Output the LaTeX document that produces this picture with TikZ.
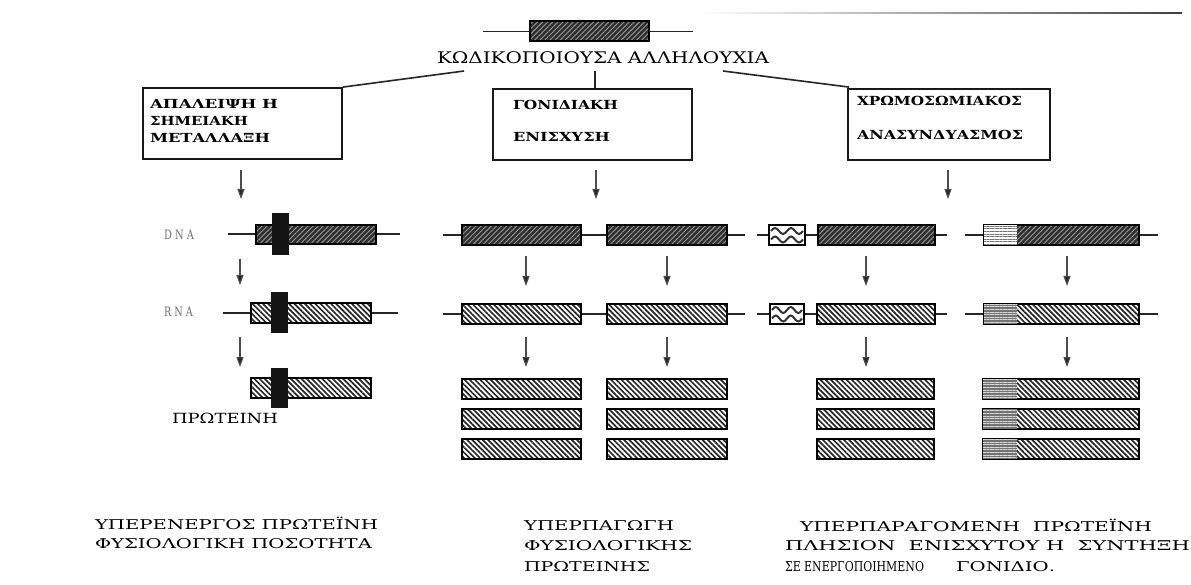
\documentclass[tikz,border=0pt]{standalone}
\usepackage{fontspec}
\setmainfont{DejaVu Serif}
\usetikzlibrary{patterns.meta,arrows.meta,calc}
\newcommand\fitw[2]{\resizebox{#1pt}{\height}{#2}}
\newcommand\gbox[6]{\node[#1,minimum width=#4pt,minimum height=#5pt] (#6) at (#2,#3) {};}
\tikzset{
  txt/.style={inner sep=0pt, outer sep=0pt, anchor=west},
  gl/.style={line width=1.3pt, black!85},
  conn/.style={line width=1.6pt, black!85},
  mbox/.style={draw=black!90, line width=1.8pt, fill=white, inner sep=0pt},
  dnab/.style={draw=black, line width=1.3pt, inner sep=0pt, preaction={fill=black!82},
    pattern={Lines[angle=45,distance=3.6pt,line width=0.9pt]}, pattern color=black!40},
  rnab/.style={draw=black, line width=1.3pt, inner sep=0pt, preaction={fill=white},
    pattern={Lines[angle=-45,distance=3.7pt,line width=1.7pt]}, pattern color=black!85},
  barb/.style={fill=black!92, draw=none, inner sep=0pt},
  wbox/.style={draw=black, line width=1.3pt, fill=white, inner sep=0pt},
  wave/.style={line width=2pt, black!80},
  hsl/.style={preaction={fill=white}, pattern={Lines[angle=0,distance=2.6pt,line width=0.7pt]}, pattern color=black!55},
  hsd/.style={preaction={fill=black!55}, pattern={Lines[angle=0,distance=2.6pt,line width=0.6pt]}, pattern color=white!85!black},
  arr/.style={line width=1.1pt, black!70, -{Triangle[length=10pt,width=7pt,fill=black!85]}},
}
\begin{document}
\begin{tikzpicture}[x=1pt,y=-1pt]
\fill[white] (0,0) rectangle (1191,585);
\useasboundingbox (0,0) rectangle (1191,585);

% faint top-right rule
\shade[left color=white, right color=black!75] (700,12.3) rectangle (1182,13.8);

% ---------- top gene ----------
\coordinate (tgl) at (483,31.5);
\coordinate (tgr) at (693,31.5);
\draw[gl] (tgl) -- (tgr);
\gbox{dnab}{589.5}{31}{119}{20}{tgene}
\node[txt] (title) at (437,58) {\fontsize{16}{16}\selectfont\fitw{332}{ΚΩΔΙΚΟΠΟΙΟΥΣΑ ΑΛΛΗΛΟΥΧΙΑ}};

% ---------- mechanism boxes ----------
\gbox{mbox}{242.5}{123.5}{199}{71}{box1}
\gbox{mbox}{592.5}{124.5}{199}{71}{box2}
\gbox{mbox}{949}{124.5}{202}{71}{box3}
\coordinate (tl) at (464,71);
\coordinate (tm) at (595,71);
\coordinate (tr) at (723,71);
\draw[conn] (tl) -- (box1.north east);
\draw[conn] (tm) -- (tm |- box2.north);
\draw[conn] (tr) -- ($(box3.north west)+(2,-1)$);

\begin{scope}[every node/.style={txt}]
\bfseries\fontsize{12.5}{12.5}\selectfont
\node (b1a) at (150,104) {\fitw{128}{ΑΠΑΛΕΙΨΗ Η}};
\node (b1b) at (150,121) {\fitw{98}{ΣΗΜΕΙΑΚΗ}};
\node (b1c) at (150,138) {\fitw{120}{ΜΕΤΑΛΛΑΞΗ}};
\node (b2a) at (513,105) {\fitw{105}{ΓΟΝΙΔΙΑΚΗ}};
\node (b2b) at (513,137) {\fitw{97}{ΕΝΙΣΧΥΣΗ}};
\node (b3a) at (857,101) {\fitw{165}{ΧΡΩΜΟΣΩΜΙΑΚΟΣ}};
\node (b3b) at (857,135) {\fitw{166}{ΑΝΑΣΥΝΔΥΑΣΜΟΣ}};
\end{scope}

% arrows from boxes
\coordinate (a1s) at (241,170); \coordinate (a1e) at (241,199);
\coordinate (a2s) at (596,170); \coordinate (a2e) at (596,199);
\coordinate (a3s) at (948,170); \coordinate (a3e) at (948,199);
\draw[arr] (a1s) -- (a1e);
\draw[arr] (a2s) -- (a2e);
\draw[arr] (a3s) -- (a3e);

% row labels
\node[txt] (lDNA) at (164,235) {\color{black!55}\fontsize{13}{13}\selectfont\fitw{30}{D N A}};
\node[txt] (lRNA) at (164,312) {\color{black!55}\fontsize{13}{13}\selectfont\fitw{29}{R N A}};

% ---------- column 1: point mutation ----------
\coordinate (c1dl) at (228,234); \coordinate (c1dr) at (400,234);
\draw[gl] (c1dl) -- (c1dr);
\gbox{dnab}{316}{234.5}{120}{19}{c1d}
\gbox{barb}{280.5}{234}{17}{42}{c1dm}
\coordinate (c1rl) at (223,313); \coordinate (c1rr) at (398,313);
\draw[gl] (c1rl) -- (c1rr);
\gbox{rnab}{311}{313}{120}{20}{c1r}
\gbox{barb}{279.5}{312.5}{17}{41}{c1rm}
\gbox{rnab}{311}{388}{120}{20}{c1p}
\gbox{barb}{279.5}{388}{17}{40}{c1pm}
\draw[arr] (240,259) coordinate (c1a1s) -- (240,285) coordinate (c1a1e);
\draw[arr] (240,337) coordinate (c1a2s) -- (240,367) coordinate (c1a2e);
\node[txt] (prot) at (172,418) {\fontsize{14}{14}\selectfont\fitw{106}{ΠΡΩΤΕΙΝΗ}};

% ---------- column 2: gene amplification ----------
\coordinate (c2dl) at (443,235); \coordinate (c2dr) at (745,235);
\draw[gl] (c2dl) -- (c2dr);
\gbox{dnab}{521.5}{235}{119}{20}{c2dA}
\gbox{dnab}{667}{235}{120}{20}{c2dB}
\coordinate (c2rl) at (443,314); \coordinate (c2rr) at (745,314);
\draw[gl] (c2rl) -- (c2rr);
\gbox{rnab}{521.5}{314}{119}{20}{c2rA}
\gbox{rnab}{667}{314}{120}{20}{c2rB}
\gbox{rnab}{521.5}{389}{119}{20}{c2pA1}
\gbox{rnab}{521.5}{419}{119}{20}{c2pA2}
\gbox{rnab}{521.5}{449}{119}{20}{c2pA3}
\gbox{rnab}{667}{389}{120}{20}{c2pB1}
\gbox{rnab}{667}{419}{120}{20}{c2pB2}
\gbox{rnab}{667}{449}{120}{20}{c2pB3}
\draw[arr] (526,256) coordinate (c2a1s) -- (526,286) coordinate (c2a1e);
\draw[arr] (667,256) coordinate (c2a2s) -- (667,286) coordinate (c2a2e);
\draw[arr] (526,337) coordinate (c2a3s) -- (526,367) coordinate (c2a3e);
\draw[arr] (667,337) coordinate (c2a4s) -- (667,367) coordinate (c2a4e);

% ---------- column 3: chromosomal rearrangement ----------
\coordinate (c3dl) at (757,235); \coordinate (c3dr) at (947,235);
\draw[gl] (c3dl) -- (c3dr);
\coordinate (c4dl) at (965,235); \coordinate (c4dr) at (1158,235);
\draw[gl] (c4dl) -- (c4dr);
\gbox{wbox}{787}{235}{36}{20}{c3dw}
\draw[wave] ($(c3dw.center)+(-16,-4)$) sin ++(4,-3) cos ++(4,3) sin ++(4,3) cos ++(4,-3) sin ++(4,-3) cos ++(4,3) sin ++(4,3) cos ++(4,-3);
\draw[wave] ($(c3dw.center)+(-16,4.5)$) sin ++(4,-3) cos ++(4,3) sin ++(4,3) cos ++(4,-3) sin ++(4,-3) cos ++(4,3) sin ++(4,3) cos ++(4,-3);
\gbox{dnab}{876.5}{235}{117}{20}{c3d}
\gbox{dnab}{1061.5}{235}{155}{20}{c4d}
\fill[hsl] (c4d.north west) rectangle ($(c4d.south west)+(34,0)$);
\draw[line width=1.3pt] (c4d.north west) rectangle (c4d.south east);

\coordinate (c3rl) at (757,314); \coordinate (c3rr) at (947,314);
\draw[gl] (c3rl) -- (c3rr);
\coordinate (c4rl) at (965,314); \coordinate (c4rr) at (1158,314);
\draw[gl] (c4rl) -- (c4rr);
\gbox{wbox}{787}{314}{34}{20}{c3rw}
\draw[wave] ($(c3rw.center)+(-15,-4)$) sin ++(3.75,-3) cos ++(3.75,3) sin ++(3.75,3) cos ++(3.75,-3) sin ++(3.75,-3) cos ++(3.75,3) sin ++(3.75,3) cos ++(3.75,-3);
\draw[wave] ($(c3rw.center)+(-15,4.5)$) sin ++(3.75,-3) cos ++(3.75,3) sin ++(3.75,3) cos ++(3.75,-3) sin ++(3.75,-3) cos ++(3.75,3) sin ++(3.75,3) cos ++(3.75,-3);
\gbox{rnab}{876}{314}{118}{20}{c3r}
\gbox{rnab}{1061.5}{314}{155}{20}{c4r}
\fill[hsd] (c4r.north west) rectangle ($(c4r.south west)+(34,0)$);
\draw[line width=1.3pt] (c4r.north west) rectangle (c4r.south east);

\gbox{rnab}{875.5}{389}{117}{20}{c3p1}
\gbox{rnab}{875.5}{419}{117}{20}{c3p2}
\gbox{rnab}{875.5}{449}{117}{20}{c3p3}
\gbox{rnab}{1061}{389}{156}{20}{c4p1}
\gbox{rnab}{1061}{419}{156}{20}{c4p2}
\gbox{rnab}{1061}{449}{156}{20}{c4p3}
\foreach \n in {c4p1,c4p2,c4p3}{
  \fill[hsd] (\n.north west) rectangle ($(\n.south west)+(35,0)$);
  \draw[line width=1.3pt] (\n.north west) rectangle (\n.south east);
}
\draw[arr] (866,256) coordinate (c3a1s) -- (866,286) coordinate (c3a1e);
\draw[arr] (1067,256) coordinate (c3a2s) -- (1067,286) coordinate (c3a2e);
\draw[arr] (866,337) coordinate (c3a3s) -- (866,367) coordinate (c3a3e);
\draw[arr] (1067,337) coordinate (c3a4s) -- (1067,367) coordinate (c3a4e);

% ---------- bottom captions ----------
\begin{scope}[every node/.style={txt}]
\fontsize{13.5}{13.5}\selectfont
\node (t1a) at (95,523) {\fitw{283}{ΥΠΕΡΕΝΕΡΓΟΣ ΠΡΩΤΕΪΝΗ}};
\node (t1b) at (95,544) {\fitw{277}{ΦΥΣΙΟΛΟΓΙΚΗ ΠΟΣΟΤΗΤΑ}};
\node (t2a) at (524,525) {\fitw{150}{ΥΠΕΡΠΑΓΩΓΗ}};
\node (t2b) at (524,546) {\fitw{168}{ΦΥΣΙΟΛΟΓΙΚΗΣ}};
\node (t2c) at (524,567) {\fitw{126}{ΠΡΩΤΕΙΝΗΣ}};
\node (t3a) at (800,525) {\fitw{352}{ΥΠΕΡΠΑΡΑΓΟΜΕΝΗ\ \ ΠΡΩΤΕΪΝΗ}};
\node (t3b) at (785,546) {\fitw{405}{ΠΛΗΣΙΟΝ\ \ ΕΝΙΣΧΥΤΟΥ Η\ \ ΣΥΝΤΗΞΗ}};
\node (t3c) at (785,567) {\fitw{139}{ΣΕ ΕΝΕΡΓΟΠΟΙΗΜΕΝΟ}\hspace{32pt}\fitw{99}{ΓΟΝΙΔΙΟ.}};
\end{scope}
\end{tikzpicture}
\end{document}
